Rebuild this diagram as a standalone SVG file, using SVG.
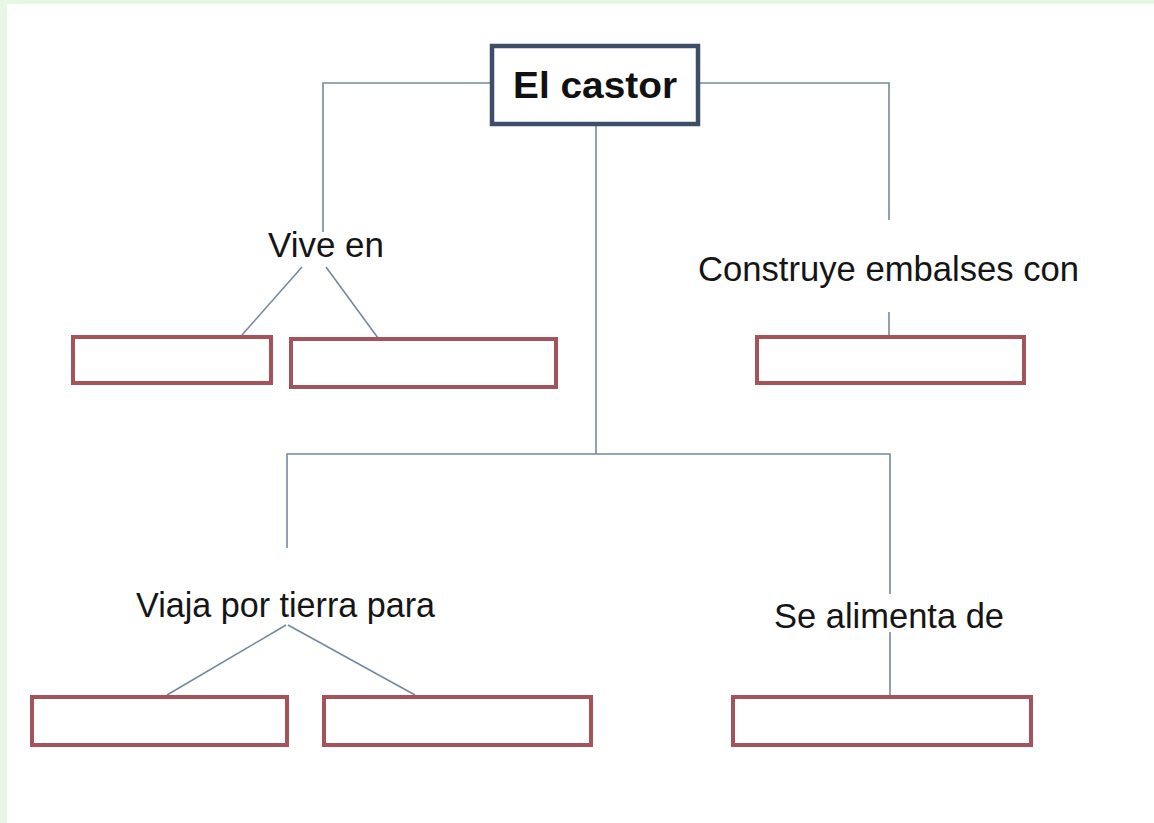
<svg xmlns="http://www.w3.org/2000/svg" width="1154" height="823" viewBox="0 0 1154 823">
<style>
.conn{stroke:#7489a0;stroke-width:1.6;fill:none}
.box{fill:#ffffff;stroke:#a5535b;stroke-width:4}
.main{fill:#ffffff;stroke:#3e4e68;stroke-width:4.5}
.lbl{font-family:"Liberation Sans",Arial,sans-serif;font-size:35px;fill:#151515}
.title{font-family:"Liberation Sans",Arial,sans-serif;font-size:37px;font-weight:bold;fill:#111111}
</style>
<rect x="0" y="0" width="1154" height="823" fill="#e8f6e6"/>
<rect x="7" y="4" width="1147" height="819" fill="#ffffff"/>
<g id="connectors">
<polyline class="conn" points="491,83 323,83 323,232"/>
<polyline class="conn" points="700,83 889,83 889,220"/>
<line class="conn" x1="889" y1="312" x2="889" y2="337"/>
<line class="conn" x1="596" y1="126" x2="596" y2="454"/>
<polyline class="conn" points="287,548 287,454 890,454 890,594"/>
<line class="conn" x1="890" y1="632" x2="890" y2="695"/>
<line class="conn" x1="302" y1="267" x2="242" y2="335"/>
<line class="conn" x1="326" y1="267" x2="378" y2="338"/>
<line class="conn" x1="286" y1="625" x2="167" y2="695"/>
<line class="conn" x1="288" y1="625" x2="415" y2="695"/>
</g>
<g id="castor">
<rect class="main" x="492" y="46" width="206" height="78"/>
<text class="title" x="595" y="98" text-anchor="middle" textLength="164" lengthAdjust="spacingAndGlyphs">El castor</text>
</g>
<g id="vive-en">
<text class="lbl" x="268" y="257" textLength="116" lengthAdjust="spacingAndGlyphs">Vive en</text>
</g>
<g id="construye">
<text class="lbl" x="698" y="281" textLength="381" lengthAdjust="spacingAndGlyphs">Construye embalses con</text>
</g>
<g id="viaja">
<text class="lbl" x="136" y="617" textLength="299" lengthAdjust="spacingAndGlyphs">Viaja por tierra para</text>
</g>
<g id="alimenta">
<text class="lbl" x="774" y="628" textLength="230" lengthAdjust="spacingAndGlyphs">Se alimenta de</text>
</g>
<g id="box-vive-1"><rect class="box" x="73" y="337" width="198" height="46"/></g>
<g id="box-vive-2"><rect class="box" x="291" y="339" width="265" height="48"/></g>
<g id="box-construye"><rect class="box" x="757" y="337" width="267" height="46"/></g>
<g id="box-viaja-1"><rect class="box" x="32" y="697" width="255" height="48"/></g>
<g id="box-viaja-2"><rect class="box" x="324" y="697" width="267" height="48"/></g>
<g id="box-alimenta"><rect class="box" x="733" y="697" width="298" height="48"/></g>
</svg>
